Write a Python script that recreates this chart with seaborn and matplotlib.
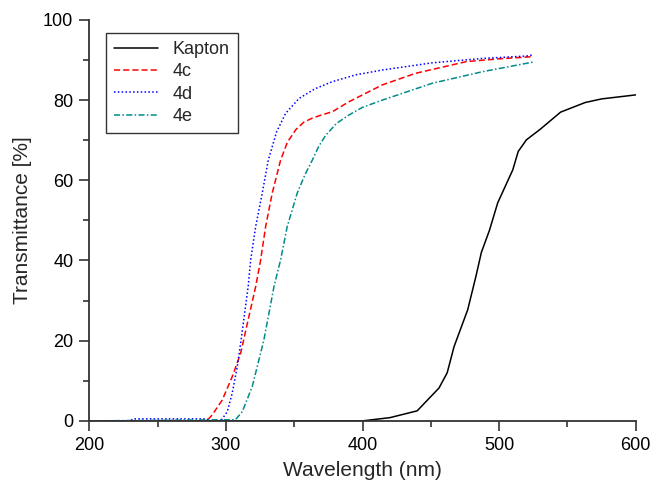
import matplotlib
matplotlib.use("Agg")
import matplotlib.pyplot as plt
from matplotlib.ticker import MultipleLocator
import pandas as pd
import seaborn as sns

# values
kapton_x = [200, 300, 400, 420, 440, 456, 462, 467, 477, 483, 487, 493, 499, 510, 514, 520, 530, 545, 563, 575, 600]
kapton_y = [0, 0, 0, 0.8, 2.5, 8.2, 12, 18.5, 27.7, 36, 42, 47.6, 54.4, 62.6, 67.2, 70.1, 72.7, 77, 79.4, 80.3, 81.3]

c4_x = [200, 286, 290, 297.3, 304.6, 310.8, 316.8, 321.8, 325.4, 329.1, 333.9, 340, 345, 351.1, 357, 363.2, 370,
        377.9, 390.1, 414.5, 439, 476, 500, 523, 525]
c4_y = [0, 0, 1.5, 5.2, 11, 16.9, 26, 33.5, 40.1, 48.5, 56.8, 65, 69.5, 72.6, 74.5, 75.5, 76.3,
        77.1, 79.6, 83.8, 86.7, 89.6, 90.3, 90.8, 90.5]

d4_x = [200, 230, 232, 286, 288, 296, 297.3, 301, 304.6, 308.3, 310.8, 316.3, 318.1, 321.8, 326.6, 331, 337, 343.7,
        353.5, 365, 377.9, 395, 414.5, 451, 488, 520, 525]
d4_y = [0, 0, 0.5, 0.5, 0, 0, 0.5, 2.3, 6.9, 13.5, 19.4, 33.5, 40.1, 48.5, 56.8, 65, 72, 76.7,
        80.4, 82.8, 84.6, 86.3, 87.5, 89.3, 90.4, 91, 91.3]

e4_x = [200, 307, 312, 319.3, 327.8, 335.2, 340, 344.9, 352.2, 358, 363.2, 368, 373, 381, 390.1, 400, 414.5,
        451, 488, 525]
e4_y = [0, 0.3, 2.3, 8.6, 20.2, 33.5, 40.1, 48.5, 56.8, 61.5, 65, 68.5, 71.2, 74.2, 76.3, 78.2, 80,
        84.2, 87.1, 89.5]

series_names = ["Kapton", "4c", "4d", "4e"]
series_colors = ["black", "#ff0000", "#0000ff", "#008b8b"]
series_styles = ["-", (0, (4, 2)), (0, (1, 1.5)), (0, (4, 1.5, 1, 1.5))]

sns.set_style("ticks")
plt.rcParams['font.family'] = ['Liberation Sans', 'DejaVu Sans']

fig = plt.figure(figsize=(6.52, 4.86), dpi=100)
ax = fig.add_axes([0.137, 0.134, 0.838, 0.825])

data = [(kapton_x, kapton_y), (c4_x, c4_y), (d4_x, d4_y), (e4_x, e4_y)]
for (xs, ys), name, col, ls in zip(data, series_names, series_colors, series_styles):
    df = pd.DataFrame({"x": xs, "y": ys})
    sns.lineplot(data=df, x="x", y="y", ax=ax, color=col, linestyle=ls, linewidth=1.1, label=name)

ax.set_xlim(200, 600)
ax.set_ylim(0, 100)
ax.xaxis.set_major_locator(MultipleLocator(100))
ax.xaxis.set_minor_locator(MultipleLocator(50))
ax.yaxis.set_major_locator(MultipleLocator(20))
ax.yaxis.set_minor_locator(MultipleLocator(10))
ax.tick_params(which='major', length=7, width=1.2, pad=4.5, labelsize=13, colors='#333333', labelcolor='black')
ax.tick_params(which='minor', length=4, width=1.2, colors='#333333')
sns.despine(ax=ax)
for s in ["left", "bottom"]:
    ax.spines[s].set_linewidth(1.3)
    ax.spines[s].set_color('#333333')

ax.set_xlabel("Wavelength (nm)", fontsize=15, labelpad=5)
ax.set_ylabel("Transmittance [%]", fontsize=15, labelpad=8)

leg = ax.legend(loc="upper left", bbox_to_anchor=(0.03, 0.968), fontsize=13, frameon=True, fancybox=False,
                handlelength=2.45, borderaxespad=0, labelspacing=0.3, borderpad=0.45)
leg.get_frame().set_edgecolor("black")
leg.get_frame().set_linewidth(1.0)

fig.savefig("out.png", dpi=100)
